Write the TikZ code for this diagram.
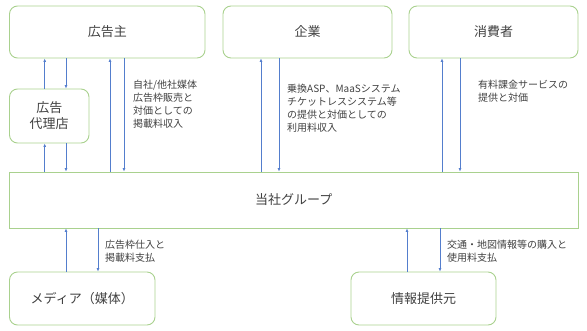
\documentclass[tikz,border=0pt]{standalone}
\usepackage{fontspec}
\setmainfont{Noto Sans CJK JP}
\usepackage{xcolor}
\usetikzlibrary{arrows.meta}
\definecolor{boxgreen}{RGB}{169,209,142}
\definecolor{flowblue}{RGB}{84,126,205}
\definecolor{txtgray}{RGB}{64,64,64}

\begin{document}
\begin{tikzpicture}[x=1pt, y=-1pt,
    box/.style = {draw=boxgreen, line width=0.9pt, rounded corners=8pt, text=txtgray,
                  font=\fontsize{13}{16}\selectfont, align=center},
    flow/.style = {draw=flowblue, line width=0.7pt, -{Latex[length=3.5pt,width=3pt]}},
    note/.style = {anchor=north west, inner sep=0pt, align=left, text=txtgray,
                   font=\fontsize{10}{13}\selectfont}]
        \useasboundingbox (0,0) rectangle (587,330);
        \node[box, minimum width=195.5pt, minimum height=52pt] (adv) at (107.25,32) {広告主};
        \node[box, minimum width=169pt, minimum height=52pt] (corp) at (307.5,32) {企業};
        \node[box, minimum width=169pt, minimum height=52pt] (cons) at (493.5,32) {消費者};
        \node[box, minimum width=79.5pt, minimum height=54pt] (agency) at (49.25,116) {広告\\代理店};
        \node[box, rounded corners=0pt, minimum width=568.5pt, minimum height=56pt] (group) at (293.75,200) {当社グループ};
        \node[box, minimum width=145.5pt, minimum height=53pt] (media) at (82.25,298.5) {メディア（媒体）};
        \node[box, minimum width=145pt, minimum height=53pt] (info) at (423.5,298.5) {情報提供元};
        % lanes
        \coordinate (a1) at (44.7,0);
        \coordinate (a2) at (66,0);
        \coordinate (a3) at (110,0);
        \coordinate (a4) at (124,0);
        \coordinate (c1) at (261,0);
        \coordinate (c2) at (279,0);
        \coordinate (s1) at (442,0);
        \coordinate (s2) at (460,0);
        \coordinate (m1) at (66,0);
        \coordinate (m2) at (98,0);
        \coordinate (i1) at (407,0);
        \coordinate (i2) at (440,0);
        \draw[flow] (agency.north -| a1) -- (adv.south -| a1);
        \draw[flow] (adv.south -| a2) -- (agency.north -| a2);
        \draw[flow] (group.north -| a1) -- (agency.south -| a1);
        \draw[flow] (agency.south -| a2) -- (group.north -| a2);
        \draw[flow] (group.north -| a3) -- (adv.south -| a3);
        \draw[flow] (adv.south -| a4) -- (group.north -| a4);
        \draw[flow] (group.north -| c1) -- (corp.south -| c1);
        \draw[flow] (corp.south -| c2) -- (group.north -| c2);
        \draw[flow] (group.north -| s1) -- (cons.south -| s1);
        \draw[flow] (cons.south -| s2) -- (group.north -| s2);
        \draw[flow] (media.north -| m1) -- (group.south -| m1);
        \draw[flow] (group.south -| m2) -- (media.north -| m2);
        \draw[flow] (info.north -| i1) -- (group.south -| i1);
        \draw[flow] (group.south -| i2) -- (info.north -| i2);
        % notes
        \node[note] (n1) at (133,80) {自社/他社媒体\\広告枠販売と\\対価としての\\掲載料収入};
        \node[note] (n2) at (287,84) {乗換ASP、MaaSシステム\\チケットレスシステム等\\の提供と対価としての\\利用料収入};
        \node[note] (n3) at (478,80) {有料課金サービスの\\提供と対価};
        \node[note] (n4) at (105,240) {広告枠仕入と\\掲載料支払};
        \node[note] (n5) at (447,240) {交通・地図情報等の購入と\\使用料支払};
      \end{tikzpicture}
\end{document}
